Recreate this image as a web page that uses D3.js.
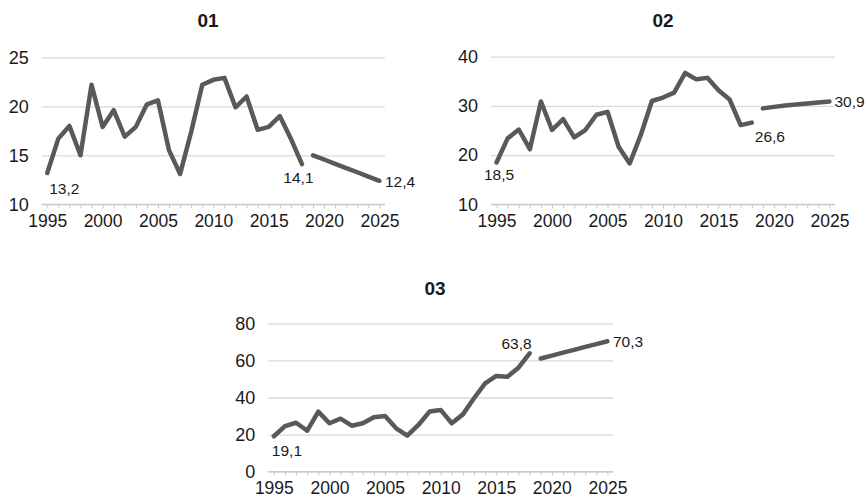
<!DOCTYPE html>
<html lang="en">

<head>
    <meta charset="UTF-8">
    <title>Line charts 01 02 03</title>
    <script src="https://d3js.org/d3.v7.min.js"></script>

    <style>
        body {
            margin: 0;
            background: #fff;
        }

        svg {
            font-family: "Liberation Sans", Arial, sans-serif;
        }
    </style>

</head>

<body>
    <svg id="chart" width="866" height="498"></svg>

    <script>
        // categories on the x axis
        const years = d3.range(1995, 2026);
        const histYears = d3.range(1995, 2019);
        const projYears = d3.range(2019, 2026);
        const xTickLabels = [1995, 2000, 2005, 2010, 2015, 2020, 2025];

        // series 01
        const hist01 = [13.2, 16.7, 18.0, 15.0, 22.2, 17.9, 19.6, 16.9, 17.9, 20.2, 20.6, 15.5,
            13.1, 17.4, 22.2, 22.7, 22.9, 19.9, 21.0, 17.6, 17.9, 19.0, 16.7, 14.1];
        const proj01 = [15.0, 14.57, 14.13, 13.7, 13.27, 12.83, 12.4];
        const yTicks01 = [10, 15, 20, 25];

        // series 02
        const hist02 = [18.5, 23.4, 25.2, 21.2, 30.9, 25.1, 27.3, 23.6, 25.1, 28.2, 28.8, 21.7,
            18.3, 24.1, 31.0, 31.7, 32.7, 36.7, 35.4, 35.7, 33.2, 31.3, 26.1, 26.6];
        const proj02 = [29.5, 29.8, 30.1, 30.3, 30.5, 30.7, 30.9];
        const yTicks02 = [10, 20, 30, 40];

        // series 03
        const hist03 = [19.1, 24.6, 26.4, 22.1, 32.4, 26.1, 28.6, 24.8, 26.1, 29.3, 30.0, 23.4,
            19.4, 25.2, 32.4, 33.3, 26.1, 30.9, 39.6, 47.6, 51.6, 51.2, 56.1, 63.8];
        const proj03 = [61.0, 62.6, 64.2, 65.7, 67.3, 68.8, 70.3];
        const yTicks03 = [0, 20, 40, 60, 80];

        const lineColor = "#595959";
        const gridColor = "#d9d9d9";
        const textColor = "#1a1a1a";

        const svg = d3.select("#chart");

        const panels = [
            {
                title: "01", hist: hist01, proj: proj01, ticks: yTicks01,
                left: 41.7, right: 385, top: 57.3, bottom: 204.3, titleX: 208, titleY: 27,
                labels: [
                    { idx: "first", dx: 2, dy: 21, anchor: "start" },
                    { idx: "lastHist", dx: -3.5, dy: 18.6, anchor: "middle" },
                    { idx: "lastProj", dx: 5.5, dy: 6, anchor: "start" }
                ]
            },
            {
                title: "02", hist: hist02, proj: proj02, ticks: yTicks02,
                left: 491, right: 835, top: 56.7, bottom: 204.3, titleX: 663, titleY: 27,
                labels: [
                    { idx: "first", dx: 2.5, dy: 18, anchor: "middle" },
                    { idx: "lastHist", dx: 3, dy: 19, anchor: "start" },
                    { idx: "lastProj", dx: 5, dy: 6, anchor: "start" }
                ]
            },
            {
                title: "03", hist: hist03, proj: proj03, ticks: yTicks03,
                left: 268.3, right: 613, top: 323.3, bottom: 471.7, titleX: 435, titleY: 295,
                labels: [
                    { idx: "first", dx: -2, dy: 20, anchor: "start" },
                    { idx: "lastHist", dx: 2, dy: -4, anchor: "end" },
                    { idx: "lastProj", dx: 5.5, dy: 6, anchor: "start" }
                ]
            }
        ];

        const fmt = v => d3.format(".1f")(v).replace(".", ",");

        panels.forEach(p => {
            const g = svg.append("g");

            const x = d3.scalePoint()
                .domain(years)
                .range([p.left, p.right])
                .padding(0.5);

            const y = d3.scaleLinear()
                .domain(d3.extent(p.ticks))
                .range([p.bottom, p.top]);

            // title
            g.append("text")
                .attr("x", p.titleX)
                .attr("y", p.titleY)
                .attr("text-anchor", "middle")
                .style("font-size", "19px")
                .style("font-weight", "bold")
                .style("fill", textColor)
                .text(p.title);

            // gridlines + y labels
            g.append("g")
                .attr("transform", `translate(${p.left},0)`)
                .call(d3.axisLeft(y).tickValues(p.ticks).tickSize(-(p.right - p.left)).tickPadding(13))
                .call(a => a.select(".domain").remove())
                .call(a => a.selectAll("line").attr("stroke", gridColor).attr("stroke-width", 1.3))
                .call(a => a.selectAll("text")
                    .style("font-size", "18px")
                    .style("font-family", "Liberation Sans, Arial, sans-serif")
                    .attr("fill", textColor));

            // x axis: tick on every year, labels every 5
            g.append("g")
                .attr("transform", `translate(0,${p.bottom})`)
                .call(d3.axisBottom(x)
                    .tickValues(years)
                    .tickSize(4)
                    .tickPadding(6)
                    .tickFormat(d => xTickLabels.includes(d) ? d : ""))
                .call(a => a.select(".domain")
                    .attr("d", `M${p.left},0H${p.right}`)
                    .attr("stroke", "#c8c8c8").attr("stroke-width", 1.3))
                .call(a => a.selectAll("line").attr("stroke", "#c8c8c8"))
                .call(a => a.selectAll("text")
                    .style("font-size", "17.5px")
                    .style("font-family", "Liberation Sans, Arial, sans-serif")
                    .attr("fill", textColor));

            const line = d3.line()
                .x(d => x(d[0]))
                .y(d => y(d[1]));

            const histPts = histYears.map((yr, i) => [yr, p.hist[i]]);
            const projPts = projYears.map((yr, i) => [yr, p.proj[i]]);

            [histPts, projPts].forEach(pts => {
                g.append("path")
                    .datum(pts)
                    .attr("d", line)
                    .attr("fill", "none")
                    .attr("stroke", lineColor)
                    .attr("stroke-width", 4.5)
                    .attr("stroke-linejoin", "round")
                    .attr("stroke-linecap", "round");
            });

            const pick = {
                first: histPts[0],
                lastHist: histPts[histPts.length - 1],
                lastProj: projPts[projPts.length - 1]
            };

            p.labels.forEach(l => {
                const d = pick[l.idx];
                g.append("text")
                    .attr("x", x(d[0]) + l.dx)
                    .attr("y", y(d[1]) + l.dy)
                    .attr("text-anchor", l.anchor)
                    .style("font-size", "15.5px")
                    .style("fill", textColor)
                    .text(fmt(d[1]));
            });
        });
    </script>


</body>

</html>
